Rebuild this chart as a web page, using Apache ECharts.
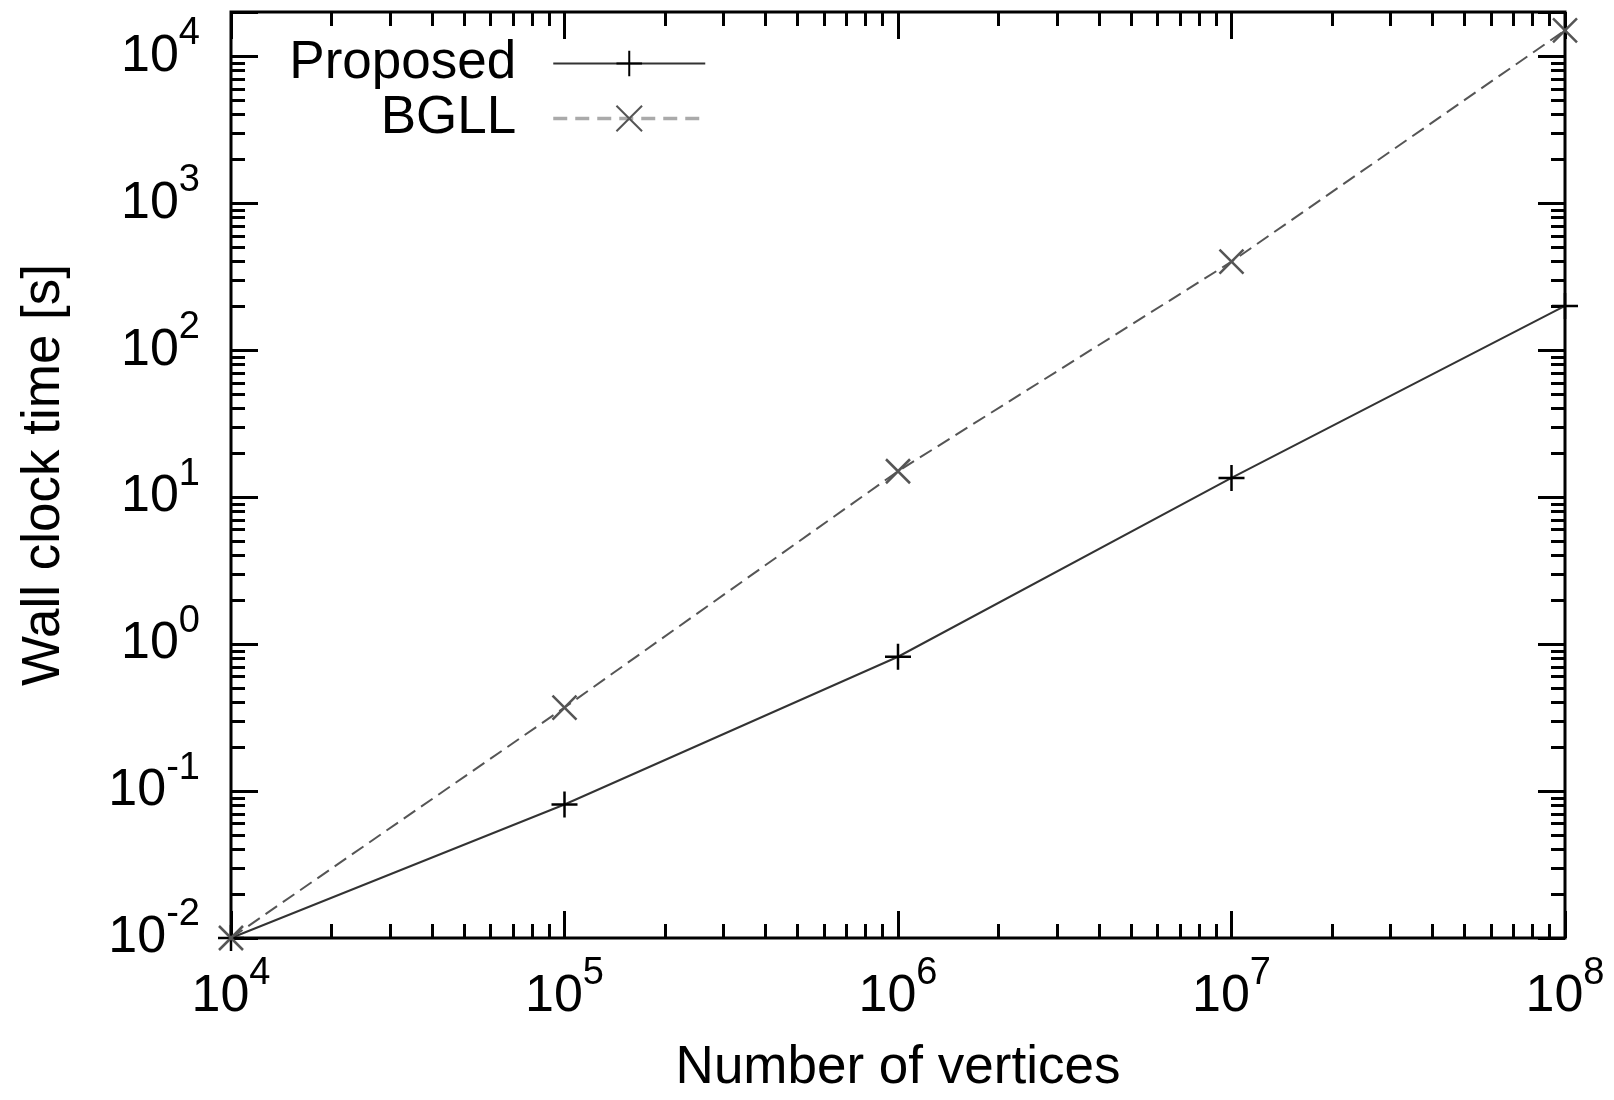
<!DOCTYPE html>
<html><head><meta charset="utf-8">
<script src="https://cdn.jsdelivr.net/npm/echarts@6/dist/echarts.min.js"></script>
<style>html,body{margin:0;padding:0;background:#fff}#c{width:1614px;height:1100px}</style>
</head><body><div id="c"></div>
<script>
// ---- data ----
const vertices = [1e4, 1e5, 1e6, 1e7, 1e8];
const proposed = [0.01, 0.081, 0.82, 13.5, 200];
const bgll = [0.01, 0.37, 15, 400, 15000];
const seriesNames = ['Proposed', 'BGLL'];
const xRange = [1e4, 1e8];
const yRange = [1e-2, 2e4];
const minorMultipliers = [2, 3, 4, 5, 6, 7, 8, 9];
const xTitle = 'Number of vertices';
const yTitle = 'Wall clock time [s]';

const FONT = '"Liberation Sans", Arial, Helvetica, sans-serif';

function minorTicks(lo, hi) {
  const out = [];
  for (let e = Math.floor(lo); e < Math.ceil(hi); e++) {
    for (const m of minorMultipliers) {
      const v = e + Math.log10(m);
      if (v > lo + 1e-9 && v < hi - 1e-9) out.push(v);
    }
  }
  return out;
}
function powLabel(v) {
  const l = Math.log10(v);
  const e = Math.round(l);
  if (Math.abs(l - e) > 1e-6) return '';
  return '{b|10}{s|' + e + '}';
}
const rich = {
  b: { fontSize: 52, fontFamily: FONT, color: '#000' },
  s: { fontSize: 38, fontFamily: FONT, color: '#000', padding: [0, 0, 46, 0] }
};
const noLine = { show: false, onZero: false };
const majorTick = { show: true, inside: true, length: 27, lineStyle: { color: '#000', width: 3 } };
const minorTickStyle = { show: true, inside: true, length: 14, lineStyle: { color: '#000', width: 3 } };

const lx = [Math.log10(xRange[0]), Math.log10(xRange[1])];
const ly = [Math.log10(yRange[0]), Math.log10(yRange[1])];

function decoAxis(pos, ext) {
  return {
    type: 'value', position: pos, min: ext[0], max: ext[1],
    axisLine: noLine, splitLine: { show: false }, axisLabel: { show: false },
    axisTick: Object.assign({}, minorTickStyle, { customValues: minorTicks(ext[0], ext[1]) })
  };
}

const option = {
  animation: false,
  backgroundColor: '#fff',
  grid: { left: 231, right: 49, top: 12, bottom: 161, show: true, borderColor: '#000', borderWidth: 3, backgroundColor: 'transparent' },
  legend: {
    orient: 'vertical', align: 'right', right: 907, top: 37, padding: 0, itemGap: 2,
    itemWidth: 152, itemHeight: 32, selectedMode: false,
    textStyle: { fontSize: 53, fontFamily: FONT, color: '#000', padding: [0, 32, 0, 0], lineHeight: 52 },
    data: [
      { name: seriesNames[0] },
      { name: seriesNames[1], lineStyle: { color: '#aaa', width: 3.5, type: [14, 8] } }
    ]
  },
  xAxis: [
    {
      type: 'log', logBase: 10, position: 'bottom', min: xRange[0], max: xRange[1], interval: 1,
      axisLine: noLine, splitLine: { show: false }, minorTick: { show: false },
      axisTick: majorTick,
      axisLabel: { formatter: powLabel, rich: rich, margin: 17 },
      name: xTitle, nameLocation: 'middle', nameGap: 104,
      nameTextStyle: { fontSize: 53, fontFamily: FONT, color: '#000' }
    },
    {
      type: 'log', logBase: 10, position: 'top', min: xRange[0], max: xRange[1], interval: 1,
      axisLine: noLine, splitLine: { show: false }, axisLabel: { show: false },
      axisTick: majorTick
    },
    decoAxis('bottom', lx),
    decoAxis('top', lx)
  ],
  yAxis: [
    {
      type: 'log', logBase: 10, position: 'left', min: yRange[0], max: yRange[1], interval: 1,
      axisLine: noLine, splitLine: { show: false }, minorTick: { show: false },
      axisTick: majorTick,
      axisLabel: { formatter: powLabel, rich: rich, margin: 31 },
      name: yTitle, nameLocation: 'middle', nameGap: 160, nameRotate: 90,
      nameTextStyle: { fontSize: 53, fontFamily: FONT, color: '#000' }
    },
    {
      type: 'log', logBase: 10, position: 'right', min: yRange[0], max: yRange[1], interval: 1,
      axisLine: noLine, splitLine: { show: false }, axisLabel: { show: false },
      axisTick: majorTick
    },
    decoAxis('left', ly),
    decoAxis('right', ly)
  ],
  series: [
    {
      name: seriesNames[0], type: 'line', xAxisIndex: 0, yAxisIndex: 0, clip: false,
      data: vertices.map((v, i) => [v, proposed[i]]),
      symbol: 'path://M0,-1L0,1M-1,0L1,0', symbolSize: 26, showAllSymbol: true,
      itemStyle: { color: 'transparent', borderColor: '#000', borderWidth: 2.5 },
      lineStyle: { color: '#333', width: 2, type: 'solid' },
      emphasis: { disabled: true }, z: 3
    },
    {
      name: seriesNames[1], type: 'line', xAxisIndex: 0, yAxisIndex: 0, clip: false,
      data: vertices.map((v, i) => [v, bgll[i]]),
      symbol: 'path://M-1,-1L1,1M-1,1L1,-1', symbolSize: 24, showAllSymbol: true,
      itemStyle: { color: 'transparent', borderColor: '#555', borderWidth: 2.5 },
      lineStyle: { color: '#555', width: 2, type: [14, 7] },
      emphasis: { disabled: true }, z: 3
    }
  ]
};
const chart = echarts.init(document.getElementById('c'), null, { renderer: 'canvas' });
chart.setOption(option);
</script>
</body></html>
